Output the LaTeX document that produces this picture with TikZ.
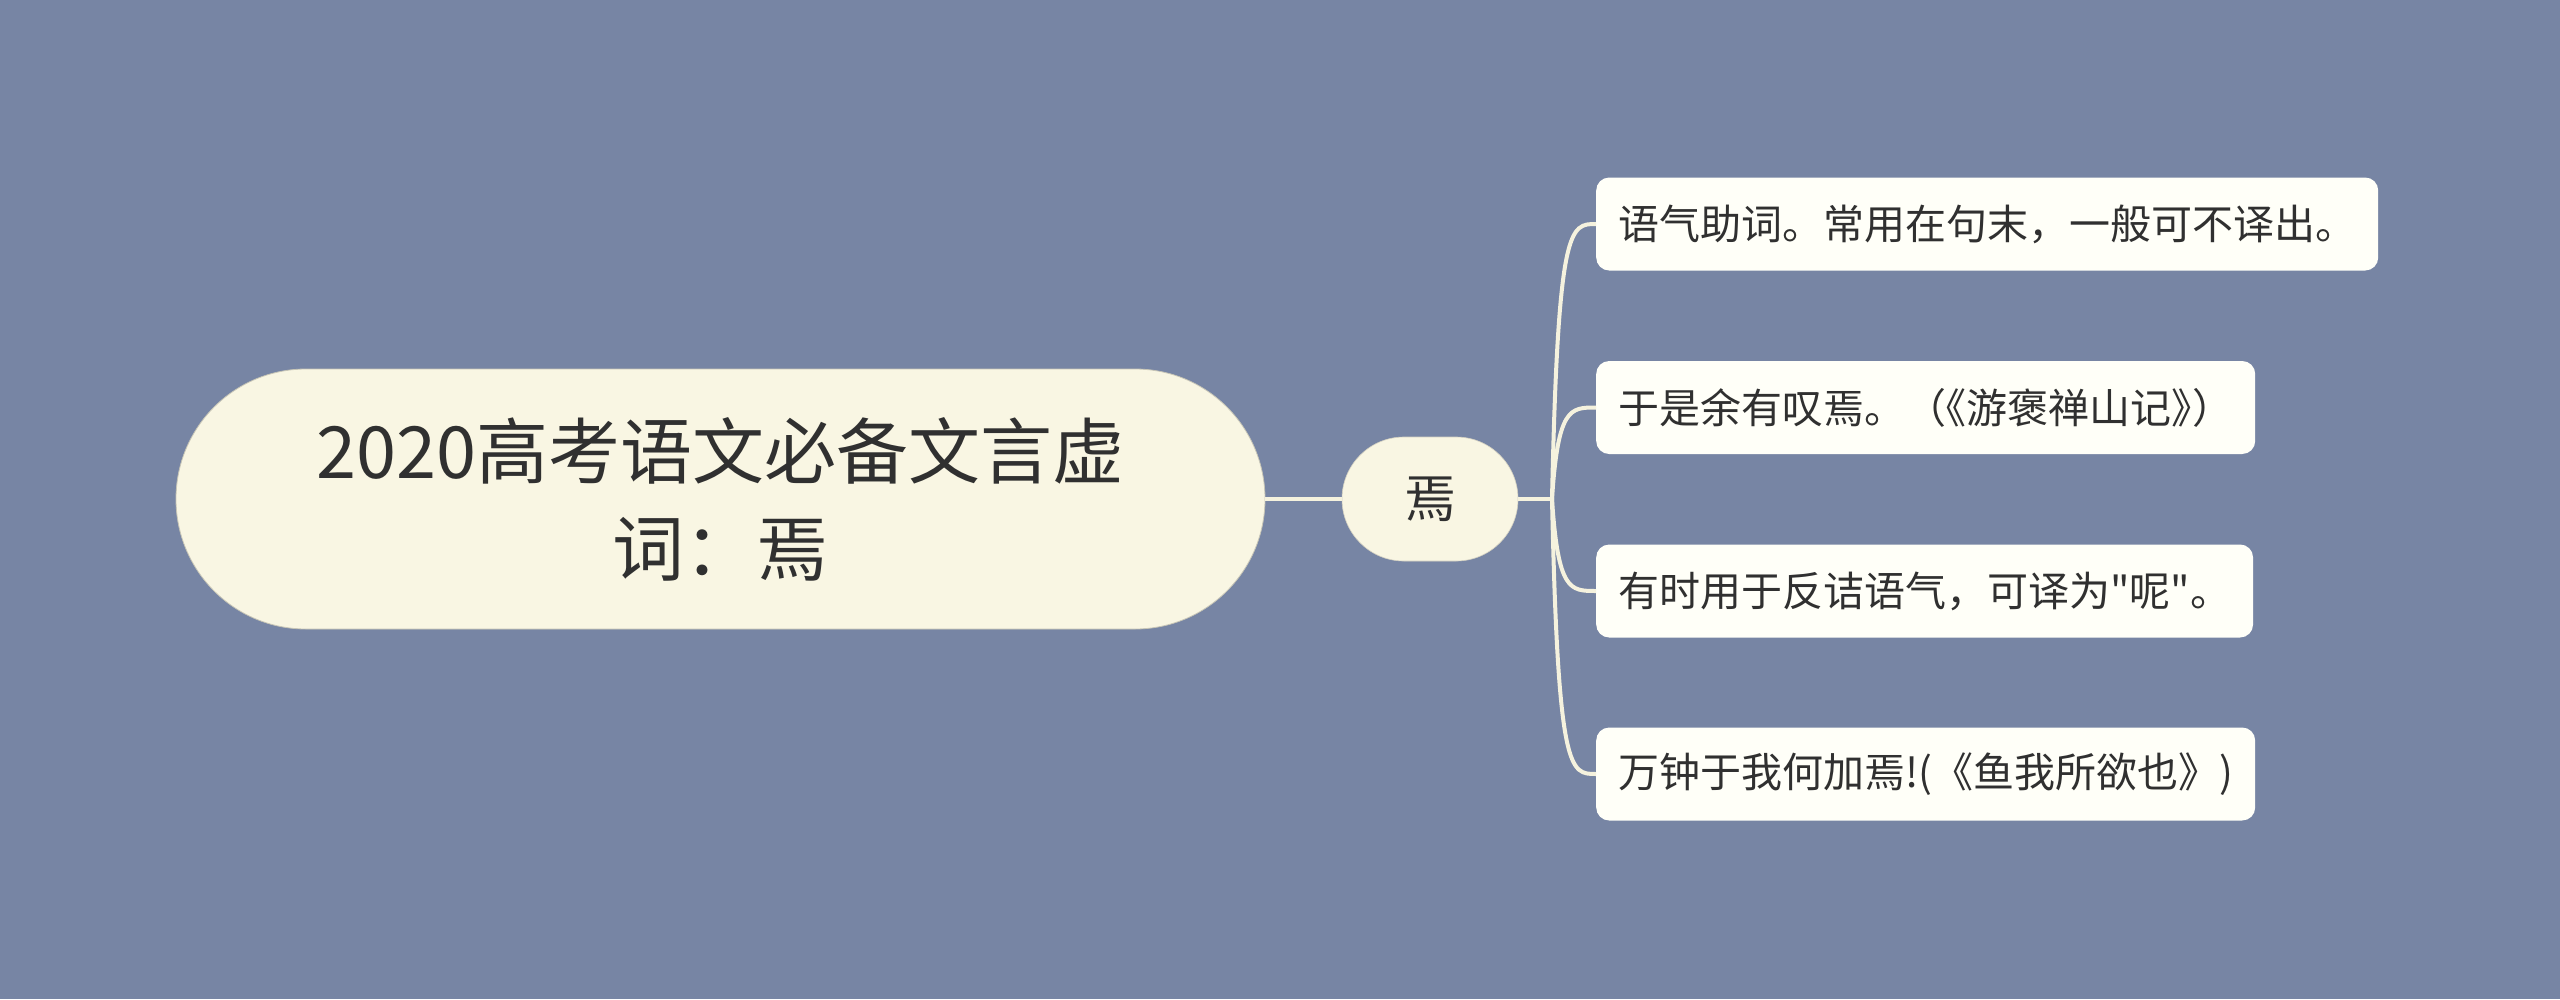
\documentclass[tikz,border=0pt]{standalone}
\usepackage{fontspec}
\newfontfamily\cjk{Noto Sans CJK SC}
\newfontfamily\cjkh[RawFeature=+halt]{Noto Sans CJK SC}
\definecolor{bg}{RGB}{119,133,164}
\definecolor{rootfill}{RGB}{249,246,227}
\definecolor{leaffill}{RGB}{255,255,248}
\definecolor{linec}{RGB}{245,242,222}
\definecolor{txt}{RGB}{48,48,48}
\tikzset{
  rootbox/.style={fill=rootfill, draw=rootfill!80!black, line width=0.8pt, rounded corners=130pt, minimum width=1089pt, minimum height=260pt, align=center, text=txt, font=\cjk\fontsize{72}{97}\selectfont, inner sep=0pt},
  midbox/.style={fill=rootfill, draw=rootfill!85!black, line width=0.6pt, rounded corners=62pt, minimum width=176pt, minimum height=124pt, text=txt, font=\cjk\fontsize{52}{60}\selectfont, inner sep=0pt},
  leafbox/.style={fill=leaffill, rounded corners=13pt, minimum height=93pt, inner xsep=22pt, inner ysep=0pt, text=txt, font=\cjk\fontsize{41}{50}\selectfont, anchor=west},
  conn/.style={draw=linec, line width=4pt},
}
\begin{document}
\begin{tikzpicture}[x=1pt,y=-1pt]
\path[use as bounding box, fill=bg] (0,0) rectangle (2560,999);
\node[rootbox] (root) at (720.5,499) {2020高考语文必备文言虚\\词：焉};
\node[midbox] (mid) at (1430,499) {焉};
\node[leafbox] (l1) at (1596,224) {语气助词。常用在句末，一般可不译出。};
\node[leafbox] (l2) at (1596,407.5) {于是余有叹焉。（{\cjkh《}游褒禅山记{\cjkh》}）};
\node[leafbox] (l3) at (1596,591) {有时用于反诘语气，可译为"呢"。};
\node[leafbox] (l4) at (1596,774) {万钟于我何加焉!(《鱼我所欲也》)};
\coordinate (br) at (1552,499);
\draw[conn] (root.east) -- (mid.west);
\draw[conn] (mid.east) -- (br);
\draw[conn] (br) .. controls (1558,224) and (1570,224) .. (l1.west);
\draw[conn] (br) .. controls (1558,407.5) and (1570,407.5) .. (l2.west);
\draw[conn] (br) .. controls (1558,591) and (1570,591) .. (l3.west);
\draw[conn] (br) .. controls (1558,774) and (1570,774) .. (l4.west);
\end{tikzpicture}
\end{document}
